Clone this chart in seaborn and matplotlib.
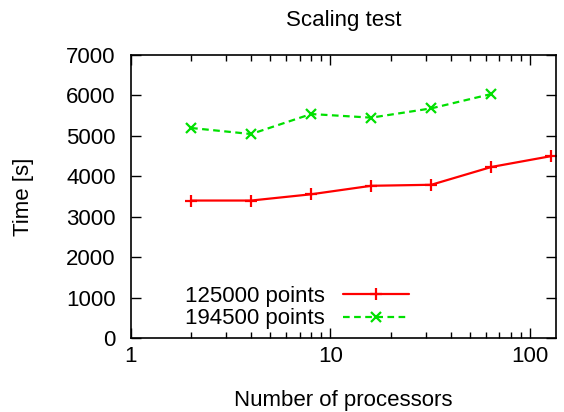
import pandas as pd
import matplotlib
matplotlib.use("Agg")
import matplotlib.pyplot as plt
import seaborn as sns
from matplotlib.ticker import LogLocator, FixedLocator

# datos
procs_a = [2, 4, 8, 16, 32, 64, 128]
time_a = [3400, 3400, 3555, 3765, 3790, 4230, 4500]
procs_b = [2, 4, 8, 16, 32, 64]
time_b = [5195, 5045, 5540, 5450, 5680, 6035]
labels = ["125000 points", "194500 points"]

df = pd.concat([
    pd.DataFrame({"procs": procs_a, "time": time_a, "serie": labels[0]}),
    pd.DataFrame({"procs": procs_b, "time": time_b, "serie": labels[1]}),
])

sns.set_style("ticks")
plt.rcParams["font.family"] = ["Liberation Sans", "DejaVu Sans"]
plt.rcParams["text.color"] = "black"
plt.rcParams["axes.labelcolor"] = "black"
fs = 16

fig = plt.figure(figsize=(5.64, 4.12), dpi=100)
ax = fig.add_axes([131 / 564, 1 - 338 / 412, (556 - 131) / 564, (338 - 55) / 412])

sns.lineplot(data=df[df.serie == labels[0]], x="procs", y="time", color="#ff0000",
             marker="+", markersize=9, mew=1.6, mec="#ff0000", linewidth=1.6,
             label=labels[0], ax=ax)
sns.lineplot(data=df[df.serie == labels[1]], x="procs", y="time", color="#00e000",
             marker="x", markersize=7, mew=1.6, mec="#00e000", linewidth=1.6,
             linestyle=(0, (3, 2)), label=labels[1], ax=ax)

ax.set_xscale("log")
ax.set_xlim(1, 135)
ax.set_ylim(0, 7000)
ax.set_yticks(range(0, 7001, 1000))
ax.xaxis.set_major_locator(FixedLocator([1, 10, 100]))
ax.xaxis.set_major_formatter(matplotlib.ticker.FuncFormatter(lambda v, p: f"{int(v)}"))
ax.xaxis.set_minor_locator(LogLocator(base=10, subs=range(2, 10)))
ax.xaxis.set_minor_formatter(matplotlib.ticker.NullFormatter())
ax.tick_params(which="both", direction="in", top=True, right=True, colors="black",
               labelsize=fs, labelcolor="black")
ax.tick_params(axis="x", pad=6)
ax.tick_params(axis="y", pad=11)
ax.tick_params(which="major", length=7, width=1)
ax.tick_params(which="minor", length=4, width=1)
for s in ax.spines.values():
    s.set_linewidth(1.2)
    s.set_color("black")

ax.set_xlabel("Number of processors", fontsize=fs, labelpad=16, color="black")
ax.set_ylabel("Time [s]", fontsize=fs, labelpad=23, color="black")
ax.set_title("Scaling test", fontsize=fs, pad=21, color="black")

leg = ax.legend(loc="lower left", bbox_to_anchor=(0.08, -0.04), frameon=False,
                markerfirst=False, handlelength=3.0, fontsize=fs,
                labelspacing=0.05, handletextpad=0.8)
for t in leg.get_texts():
    t.set_color("black")

fig.savefig("out.png", dpi=100)
